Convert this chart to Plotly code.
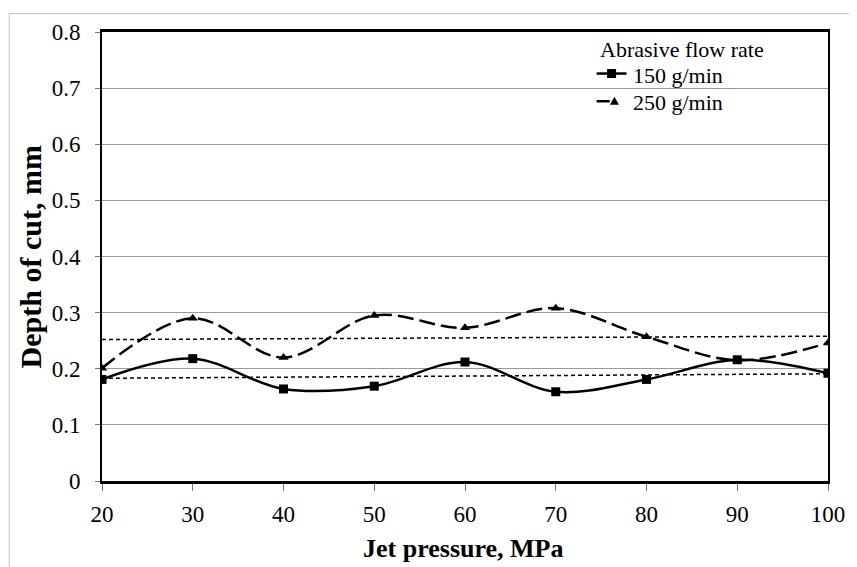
import plotly.graph_objects as go

# Data
pressure = [20, 30, 40, 50, 60, 70, 80, 90, 100]
depth_150 = [0.181, 0.218, 0.164, 0.169, 0.212, 0.159, 0.181, 0.216, 0.192]
depth_250 = [0.201, 0.290, 0.220, 0.295, 0.273, 0.308, 0.257, 0.215, 0.246]
trend_x = [20, 100]
trend_150 = [0.183, 0.191]
trend_250 = [0.252, 0.258]
y_ticks = [0, 0.1, 0.2, 0.3, 0.4, 0.5, 0.6, 0.7, 0.8]
y_labels = ["0", "0.1", "0.2", "0.3", "0.4", "0.5", "0.6", "0.7", "0.8"]
legend_title = "Abrasive flow rate"
series_names = ["150 g/min", "250 g/min"]

FONT = "Liberation Serif"

fig = go.Figure()

fig.add_trace(go.Scatter(
    x=trend_x, y=trend_150, mode="lines", showlegend=False, hoverinfo="skip",
    line=dict(color="black", width=1.5, dash="4px,3px")))
fig.add_trace(go.Scatter(
    x=trend_x, y=trend_250, mode="lines", showlegend=False, hoverinfo="skip",
    line=dict(color="black", width=1.5, dash="4px,3px")))

fig.add_trace(go.Scatter(
    x=pressure, y=depth_150, mode="lines+markers", name=series_names[0],
    showlegend=False,
    line=dict(color="black", width=2.5, shape="spline", smoothing=1),
    marker=dict(symbol="square", size=9, color="black")))
fig.add_trace(go.Scatter(
    x=pressure, y=depth_250, mode="lines+markers", name=series_names[1],
    showlegend=False,
    line=dict(color="black", width=2.5, shape="spline", smoothing=1, dash="16px,6px"),
    marker=dict(symbol="triangle-up", size=9, color="black")))

# Custom legend (keys + text) placed in plot-fraction coordinates
leg_x0, leg_x1, key_x = 0.6813, 0.7225, 0.7019
text_x = 0.7294
row_y = [0.9075, 0.8458]
text_y = [0.9031, 0.8436]

shapes = [
    # outer light frame
    dict(type="rect", xref="paper", yref="paper",
         x0=-0.1277, x1=1.2, y0=-0.3, y1=1.041,
         line=dict(color="#c0c0c0", width=1), layer="below"),
    # legend key 1: solid line + square
    dict(type="line", xref="paper", yref="paper",
         x0=leg_x0, x1=leg_x1, y0=row_y[0], y1=row_y[0],
         line=dict(color="black", width=2.5)),
    dict(type="rect", xref="paper", yref="paper",
         xsizemode="pixel", ysizemode="pixel", xanchor=key_x, yanchor=row_y[0],
         x0=-4.5, x1=4.5, y0=-4.5, y1=4.5,
         fillcolor="black", line=dict(width=0)),
    # legend key 2: dash + triangle
    dict(type="line", xref="paper", yref="paper",
         x0=leg_x0, x1=leg_x0 + 0.018, y0=row_y[1], y1=row_y[1],
         line=dict(color="black", width=2.5)),
    dict(type="path", xref="paper", yref="paper",
         xsizemode="pixel", ysizemode="pixel", xanchor=key_x + 0.004, yanchor=row_y[1],
         path="M -4.5 -3.5 L 4.5 -3.5 L 0 4.5 Z",
         fillcolor="black", line=dict(width=0)),
]

annotations = [
    dict(text="<b>Jet pressure, MPa</b>", xref="paper", yref="paper",
         x=0.4986, y=0, yshift=-67, xanchor="center", yanchor="middle",
         showarrow=False, font=dict(family=FONT, size=26)),
    dict(text="<b>Depth of cut, mm</b>", xref="paper", yref="paper",
         x=0, xshift=-72, y=0.498, xanchor="center", yanchor="middle",
         textangle=-90, showarrow=False, font=dict(family=FONT, size=30)),
    dict(text=legend_title, xref="paper", yref="paper",
         x=0.684, y=0.9604, xanchor="left", yanchor="middle",
         showarrow=False, borderpad=0, font=dict(family=FONT, size=22)),
    dict(text=series_names[0], xref="paper", yref="paper",
         x=text_x, y=text_y[0], xanchor="left", yanchor="middle",
         showarrow=False, borderpad=0, font=dict(family=FONT, size=22)),
    dict(text=series_names[1], xref="paper", yref="paper",
         x=text_x, y=text_y[1], xanchor="left", yanchor="middle",
         showarrow=False, borderpad=0, font=dict(family=FONT, size=22)),
]

fig.update_layout(
    width=849, height=559,
    margin=dict(l=94, r=27, t=19, b=86),
    paper_bgcolor="white", plot_bgcolor="white",
    font=dict(family=FONT, size=23, color="black"),
    showlegend=False,
    xaxis=dict(
        range=[20, 100], tickmode="array", tickvals=pressure,
        ticks="outside", ticklen=7, tickcolor="#777", tickwidth=1,
        ticklabelstandoff=4,
        showline=True, linecolor="black", linewidth=2.5, mirror=True,
        showgrid=False, zeroline=False,
        tickfont=dict(family=FONT, size=23),
    ),
    yaxis=dict(
        range=[0, 0.8], tickmode="array", tickvals=y_ticks, ticktext=y_labels,
        ticks="outside", ticklen=5, tickcolor="#777", tickwidth=1,
        ticklabelstandoff=10,
        showline=True, linecolor="black", linewidth=2, mirror=True,
        showgrid=True, gridcolor="#999", gridwidth=1, zeroline=False,
        tickfont=dict(family=FONT, size=23),
    ),
    annotations=annotations,
    shapes=shapes,
)

fig.write_html("out.html")
